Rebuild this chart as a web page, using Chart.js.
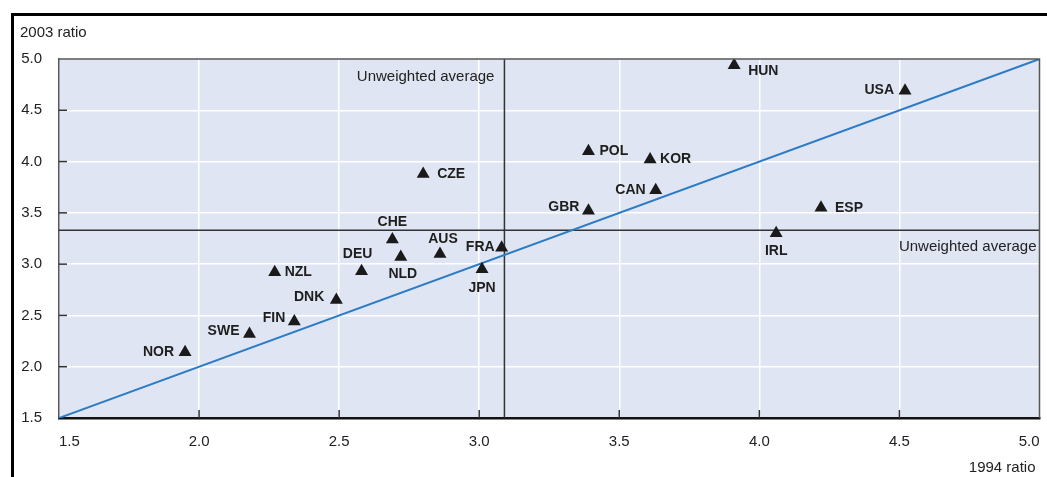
<!DOCTYPE html>
<html>
<head>
<meta charset="utf-8">
<script src="https://cdn.jsdelivr.net/npm/chart.js@4.4.1/dist/chart.umd.min.js"></script>
<style>
html,body{margin:0;padding:0;background:#fff;}
#frame{position:absolute;left:11px;top:13px;width:1040px;height:470px;border-top:3px solid #000;border-left:3px solid #000;}
#chart{position:absolute;left:0;top:0;}
</style>
</head>
<body>
<div id="frame"></div>
<canvas id="chart" width="1047" height="477"></canvas>
<script>
// values
const countries = ['HUN','USA','POL','KOR','CAN','GBR','ESP','IRL','CZE','CHE','AUS','FRA','NLD','DEU','JPN','NZL','DNK','FIN','SWE','NOR'];
const ratio1994 = [3.91, 4.52, 3.39, 3.61, 3.63, 3.39, 4.22, 4.06, 2.80, 2.69, 2.86, 3.08, 2.72, 2.58, 3.01, 2.27, 2.49, 2.34, 2.18, 1.95];
const ratio2003 = [4.94, 4.69, 4.10, 4.02, 3.72, 3.52, 3.55, 3.30, 3.88, 3.24, 3.10, 3.16, 3.07, 2.93, 2.95, 2.92, 2.65, 2.44, 2.32, 2.14];
const avg1994 = 3.09;
const avg2003 = 3.33;
const axisMin = 1.5;
const axisMax = 5.0;
const axisStep = 0.5;
const xTitle = '1994 ratio';
const yTitle = '2003 ratio';
const avgLabel = 'Unweighted average';

// where each country name sits round its marker
const labelPlace = {
  HUN:['r',14,6], USA:['l',-11,-1], POL:['r',11,0], KOR:['r',10,0], CAN:['l',-10,0],
  GBR:['l',-9,-4], ESP:['r',14,0], IRL:['b',0,18], CZE:['r',14,0], CHE:['a',0,-17],
  AUS:['a',3,-15], FRA:['l',-7,-1], NLD:['b',2,17], DEU:['a',-4,-17], JPN:['b',0,19],
  NZL:['r',10,0], DNK:['l',-12,-3], FIN:['l',-9,-3], SWE:['l',-10,-3], NOR:['l',-11,0]
};

const FONT = "'Liberation Sans', Arial, sans-serif";

const plotDecor = {
  id: 'plotDecor',
  beforeDraw(chart) {
    const {ctx, chartArea: a} = chart;
    ctx.save();
    ctx.fillStyle = '#dfe5f2';
    ctx.fillRect(a.left, a.top, a.right - a.left, a.bottom - a.top);
    ctx.restore();
  },
  afterDraw(chart) {
    const {ctx, chartArea: a, scales} = chart;
    const xs = scales.x, ys = scales.y;
    ctx.save();
    // top and right border
    ctx.strokeStyle = '#555';
    ctx.lineWidth = 1.5;
    ctx.beginPath();
    ctx.moveTo(a.left, a.top); ctx.lineTo(a.right, a.top); ctx.lineTo(a.right, a.bottom);
    ctx.stroke();
    // inner tick marks
    ctx.strokeStyle = '#333';
    ctx.lineWidth = 1.5;
    ys.ticks.forEach(t => {
      if (t.value <= axisMin || t.value >= axisMax) return;
      const y = ys.getPixelForValue(t.value);
      ctx.beginPath(); ctx.moveTo(a.left, y); ctx.lineTo(a.left + 8, y); ctx.stroke();
    });
    xs.ticks.forEach(t => {
      if (t.value <= axisMin || t.value >= axisMax) return;
      const x = xs.getPixelForValue(t.value);
      ctx.beginPath(); ctx.moveTo(x, a.bottom); ctx.lineTo(x, a.bottom - 8); ctx.stroke();
    });
    // axis titles
    ctx.fillStyle = '#222';
    ctx.font = '15px ' + FONT;
    ctx.textBaseline = 'middle';
    ctx.textAlign = 'left';
    ctx.fillText(yTitle, 20, 33);
    ctx.textAlign = 'right';
    ctx.fillText(xTitle, a.right - 4, 468);
    // average labels
    ctx.textAlign = 'right';
    ctx.fillText(avgLabel, xs.getPixelForValue(avg1994) - 10, a.top + 18);
    ctx.fillText(avgLabel, a.right - 3, ys.getPixelForValue(avg2003) + 17);
    // country names
    ctx.font = 'bold 14px ' + FONT;
    ctx.fillStyle = '#1e1e1e';
    const meta = chart.getDatasetMeta(0);
    meta.data.forEach((pt, i) => {
      const name = countries[i];
      const p = labelPlace[name] || ['r', 10, 0];
      ctx.textAlign = p[0] === 'r' ? 'left' : p[0] === 'l' ? 'right' : 'center';
      ctx.fillText(name, pt.x + p[1], pt.y + p[2]);
    });
    ctx.restore();
  }
};

const points = countries.map((c, i) => ({x: ratio1994[i], y: ratio2003[i]}));

new Chart(document.getElementById('chart').getContext('2d'), {
  type: 'scatter',
  data: {
    datasets: [
      {
        label: 'Countries',
        data: points,
        pointStyle: 'triangle',
        pointRadius: 7.5,
        backgroundColor: '#1a1a1a',
        borderColor: '#1a1a1a',
        borderWidth: 0
      },
      {
        label: '45 degree line',
        type: 'line',
        data: [{x: axisMin, y: axisMin}, {x: axisMax, y: axisMax}],
        borderColor: '#2b7bc6',
        borderWidth: 2,
        pointRadius: 0
      },
      {
        label: 'avg 1994',
        type: 'line',
        data: [{x: avg1994, y: axisMin}, {x: avg1994, y: axisMax}],
        borderColor: '#333',
        borderWidth: 1.5,
        pointRadius: 0
      },
      {
        label: 'avg 2003',
        type: 'line',
        data: [{x: axisMin, y: avg2003}, {x: axisMax, y: avg2003}],
        borderColor: '#333',
        borderWidth: 1.5,
        pointRadius: 0
      }
    ]
  },
  options: {
    responsive: false,
    animation: false,
    events: [],
    layout: {padding: {left: 0, top: 59, right: 5, bottom: 0}},
    plugins: {legend: {display: false}, tooltip: {enabled: false}},
    scales: {
      x: {
        type: 'linear',
        min: axisMin, max: axisMax,
        afterFit: s => { s.height = 59; s.paddingLeft = 0; s.paddingRight = 0; },
        grid: {color: '#ffffff', lineWidth: 1.5, drawTicks: false},
        border: {color: '#111', width: 2.5},
        ticks: {
          stepSize: axisStep, padding: 15, align: 'inner', color: '#222',
          font: {family: FONT, size: 15},
          callback: v => v.toFixed(1)
        }
      },
      y: {
        type: 'linear',
        min: axisMin, max: axisMax,
        afterFit: s => { s.width = 59; s.paddingTop = 0; s.paddingBottom = 0; },
        grid: {color: '#ffffff', lineWidth: 1.5, drawTicks: false},
        border: {color: '#555', width: 1.5},
        ticks: {
          stepSize: axisStep, padding: 17, color: '#222',
          font: {family: FONT, size: 15},
          callback: v => v.toFixed(1)
        }
      }
    }
  },
  plugins: [plotDecor]
});
</script>
</body>
</html>
